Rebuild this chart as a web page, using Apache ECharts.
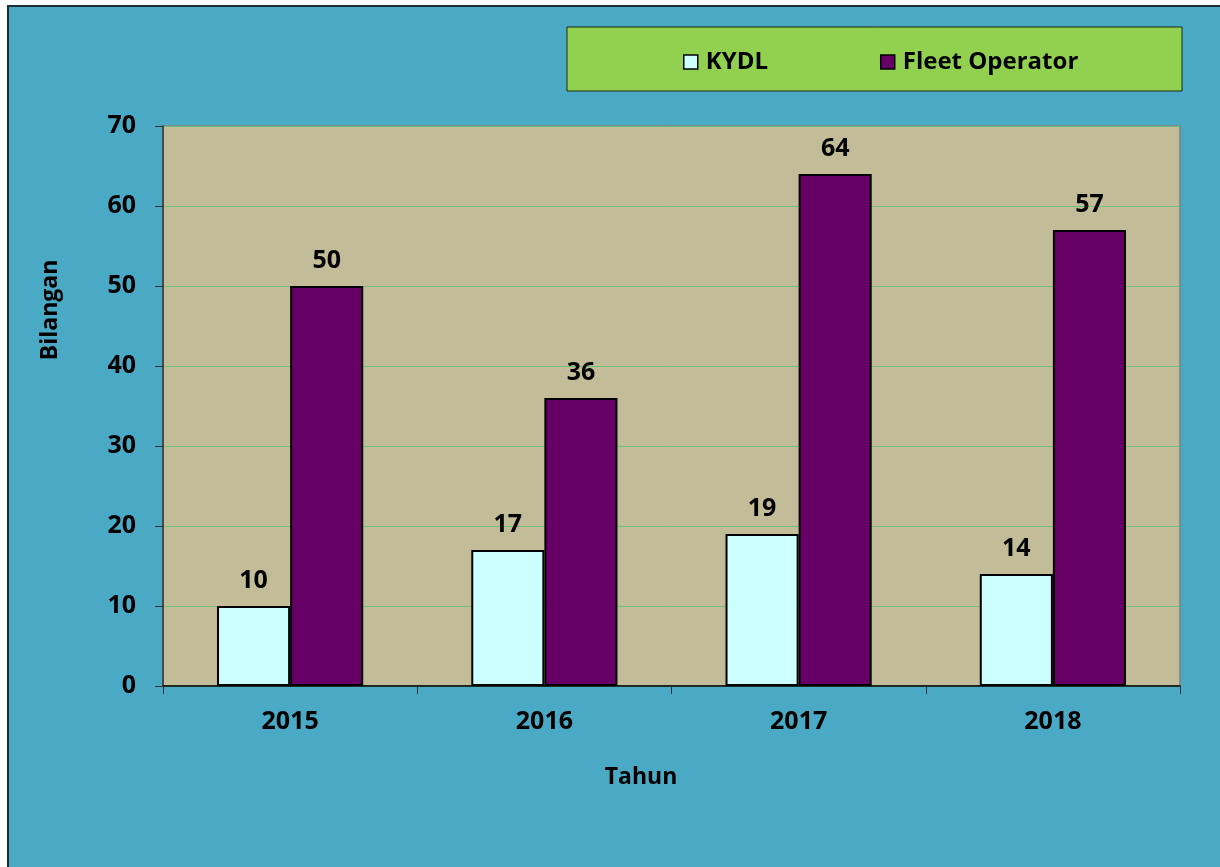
<!DOCTYPE html>
<html>
<head>
<meta charset="utf-8">
<script src="https://cdn.jsdelivr.net/npm/echarts@6/dist/echarts.min.js"></script>
<style>
  html, body { margin: 0; padding: 0; background: #fff; }
  #main { width: 1220px; height: 867px; }
</style>
</head>
<body>
<div id="main"></div>
<script>
var years = ['2015', '2016', '2017', '2018'];
var kydl = [10, 17, 19, 14];
var fleet = [50, 36, 64, 57];
var seriesNames = ['KYDL', 'Fleet Operator'];

var font = '"Open Sans", "Liberation Sans", sans-serif';

var myChart = echarts.init(document.getElementById('main'));

// 数据标签样式
var labelStyle = { show: true, position: 'top', distance: 13, fontSize: 25, fontWeight: 'bold', color: '#000', fontFamily: font };

var option = {
    backgroundColor: '#ffffff',
    textStyle: { fontFamily: font },
    graphic: [
        {
            type: 'rect', z: -10,
            shape: { x: 8, y: 6, width: 1230, height: 880 },
            style: { fill: '#4AAAC5', stroke: '#1a2e33', lineWidth: 2 }
        },
        {
            type: 'rect', z: -5,
            shape: { x: 567, y: 27, width: 615, height: 64 },
            style: { fill: '#92D050', stroke: '#1a2a10', lineWidth: 1 }
        },
        {
            type: 'text',
            x: 50, y: 310, rotation: Math.PI / 2,
            style: { text: 'Bilangan', fill: '#000', font: 'bold 23px ' + font, align: 'center', verticalAlign: 'middle' }
        },
        {
            type: 'text',
            x: 641, y: 777,
            style: { text: 'Tahun', fill: '#000', font: 'bold 23px ' + font, align: 'center', verticalAlign: 'middle' }
        }
    ],
    legend: {
        data: seriesNames,
        left: 678,
        top: 45,
        itemWidth: 14,
        itemHeight: 14,
        itemGap: 112,
        icon: 'rect',
        itemStyle: { borderColor: '#000', borderWidth: 1.5 },
        textStyle: { fontSize: 24, fontWeight: 'bold', color: '#000', fontFamily: font, padding: [0, 0, 0, 3] }
    },
    grid: {
        left: 163,
        right: 40,
        top: 126,
        bottom: 181,
        show: true,
        backgroundColor: '#C2BD98',
        borderColor: '#7f7f7f',
        borderWidth: 1.5
    },
    xAxis: {
        type: 'category',
        data: years,
        axisLine: { lineStyle: { color: '#000', width: 1.5 } },
        axisTick: { show: true, length: 8, lineStyle: { color: '#333' } },
        axisLabel: { fontSize: 25, fontWeight: 'bold', color: '#000', margin: 23, fontFamily: font }
    },
    yAxis: {
        type: 'value',
        min: 0,
        max: 70,
        interval: 10,
        axisLine: { show: true, lineStyle: { color: '#333', width: 1.5 } },
        axisTick: { show: true, length: 8, lineStyle: { color: '#333' } },
        axisLabel: { fontSize: 25, fontWeight: 'bold', color: '#000', margin: 27, fontFamily: font },
        splitLine: { lineStyle: { color: '#6DBF7C', width: 1 } }
    },
    series: [
        {
            name: seriesNames[0],
            type: 'bar',
            data: kydl,
            barGap: '0%',
            barCategoryGap: '42.5%',
            itemStyle: { color: '#CCFFFF', borderColor: '#000', borderWidth: 2 },
            label: labelStyle
        },
        {
            name: seriesNames[1],
            type: 'bar',
            data: fleet,
            barGap: '0%',
            barCategoryGap: '42.5%',
            itemStyle: { color: '#660066', borderColor: '#000', borderWidth: 2 },
            label: labelStyle
        }
    ]
};

myChart.setOption(option);
</script>
</body>
</html>
